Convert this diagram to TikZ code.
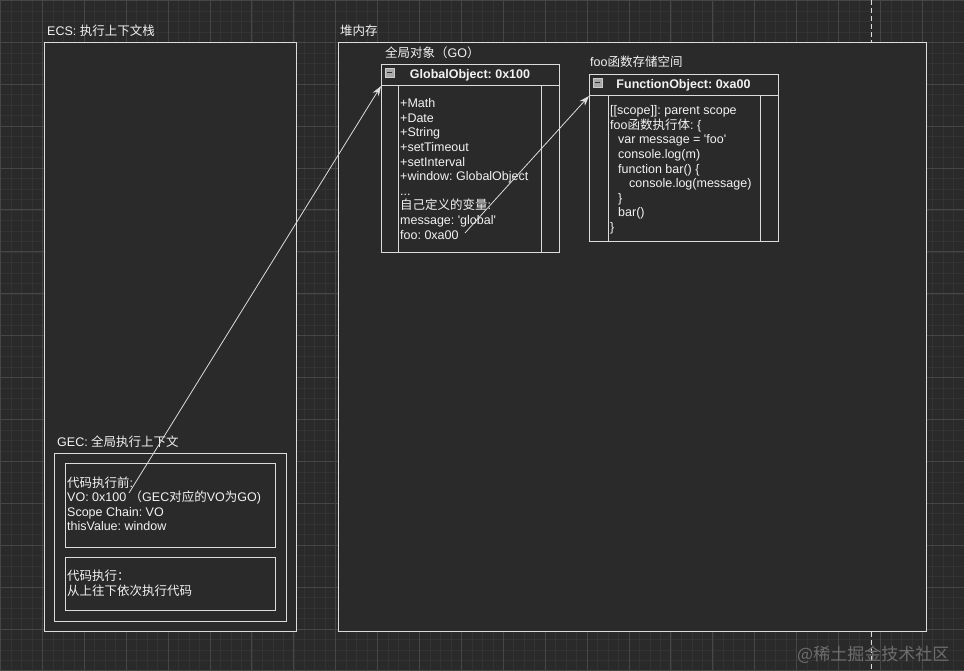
\documentclass[tikz,border=0pt]{standalone}
\usepackage{fontspec}
\usetikzlibrary{arrows.meta, positioning}
\newfontfamily\arial{Liberation Sans}
\newfontfamily\cjk{Noto Sans CJK SC}
\newcommand\zh[1]{{\cjk #1}}
\newcommand\firstline{\rule{0pt}{11.5pt}}
\frenchspacing
\definecolor{bgcol}{HTML}{2A2A2A}
\definecolor{minorcol}{HTML}{333333}
\definecolor{majorcol}{HTML}{464646}
\definecolor{linecol}{HTML}{DCDCDC}
\definecolor{txtcol}{HTML}{F2F2F2}
\definecolor{iconcol}{HTML}{A8A8A8}
\definecolor{icondark}{HTML}{303030}
\definecolor{wmcol}{HTML}{6E6E6E}

\begin{document}
\begin{tikzpicture}[
  x=1pt, y=-1pt, >={Stealth[length=10pt, width=7pt]},
  font=\arial\fontsize{12.5}{14.6}\selectfont\frenchspacing,
  frame/.style={rectangle, draw=linecol, fill=bgcol, line width=1pt, inner sep=0pt, outer sep=0pt, anchor=north west},
  cell/.style={rectangle, draw=linecol, line width=1pt, inner sep=0pt, outer sep=0pt, anchor=north west},
  caption/.style={anchor=base west, inner sep=0pt, text=txtcol},
  body/.style={anchor=north west, inner sep=0pt, align=left, text=txtcol},
  title/.style={inner sep=0pt, text=txtcol, font=\arial\bfseries\fontsize{12.5}{14.6}\selectfont\frenchspacing},
  icon/.style={rectangle, draw=iconcol!60!white, fill=iconcol, minimum size=9pt, inner sep=0pt, anchor=north west},
  link/.style={->, draw=linecol, line width=0.8pt}
]
  \useasboundingbox (0,0) rectangle (964,671);
  \fill[bgcol] (0,0) rectangle (964,671);
  \foreach \i in {0,...,92} \draw[minorcol, line width=0.6pt] ({0.5+10.475*\i},0) -- ({0.5+10.475*\i},671);
  \foreach \j in {0,...,64} \draw[minorcol, line width=0.6pt] (0,{0.5+10.475*\j}) -- (964,{0.5+10.475*\j});
  \foreach \i in {0,...,23} \draw[majorcol, line width=1pt] ({0.5+41.9*\i},0) -- ({0.5+41.9*\i},671);
  \foreach \j in {0,...,16} \draw[majorcol, line width=1pt] (0,{0.5+41.9*\j}) -- (964,{0.5+41.9*\j});
  \draw[linecol, line width=1pt, dash pattern=on 5pt off 3pt] (871,0) -- (871,671);

  \node[caption] (ecslabel) at (47,36) {ECS: \zh{执行上下文栈}};
  \node[frame, minimum width=252, minimum height=588] (ecs) at (44,43) {};
  \node[caption] (heaplabel) at (340,36) {\zh{堆内存}};
  \node[frame, minimum width=588, minimum height=588] (heap) at (338,43) {};

  \node[caption] (gecl) at (57,446.5) {GEC: \zh{全局执行上下文}};
  \node[frame, minimum width=232, minimum height=168] (gec) at (54,453) {};
  \node[cell, minimum width=210, minimum height=84] (pre) at (65,463) {};
  \node[cell, minimum width=210, minimum height=53] (run) at (65,557) {};
  \node[body] (pretext) at (67,475.3) {\firstline\zh{代码执行前}:\\VO: 0x100 \zh{（}GEC\zh{对应的}VO\zh{为}GO)\\Scope Chain: VO\\thisValue: window};
  \node[body] (runtext) at (67,569.2) {\firstline\zh{代码执行：}\\\zh{从上往下依次执行代码}};

  \node[caption] (golabel) at (385,57.5) {\zh{全局对象（}GO\zh{）}};
  \node[frame, minimum width=178, minimum height=188] (go) at (381,65) {};
  \node[cell, minimum width=178, minimum height=21] (gohead) at (381,65) {};
  \node[cell, minimum width=143, minimum height=167] (gocol) at (398,86) {};
  \node[icon] (goicon) at (385,68) {\color{icondark}\rule{5pt}{1.5pt}};
  \node[title] (gotitle) at (gohead.center) {GlobalObject: 0x100};
  \node[body] (gotext) at (400,96) {\firstline+Math\\+Date\\+String\\+setTimeout\\+setInterval\\+window: GlobalObject\\...\\\zh{自己定义的变量}:\\message: 'global'\\foo: 0xa00};

  \node[caption] (folabel) at (590,66.5) {foo\zh{函数存储空间}};
  \node[frame, minimum width=189, minimum height=167] (fo) at (589,75) {};
  \node[cell, minimum width=189, minimum height=21] (fohead) at (589,75) {};
  \node[cell, minimum width=152, minimum height=146] (focol) at (608,96) {};
  \node[icon] (foicon) at (593,78) {\color{icondark}\rule{5pt}{1.5pt}};
  \node[title] (fotitle) at (fohead.center) {FunctionObject: 0xa00};
  \node[body] (fotext) at (610,103) {\firstline[[scope]]: parent scope\\foo\zh{函数执行体}: \{\\\hspace*{8pt}var message = 'foo'\\\hspace*{8pt}console.log(m)\\\hspace*{8pt}function bar() \{\\\hspace*{19pt}console.log(message)\\\hspace*{8pt}\}\\\hspace*{8pt}bar()\\\}};

  \coordinate (voref) at (129,493);
  \coordinate (fooref) at (465,233);
  \draw[link] (voref) -- (gohead.south west);
  \draw[link] (fooref) -- (fohead.south west);

  \node[anchor=base west, inner sep=0pt, text=wmcol, font=\cjk\fontsize{17}{20}\selectfont] (wm) at (797,660) {@稀土掘金技术社区};
\end{tikzpicture}
\end{document}
